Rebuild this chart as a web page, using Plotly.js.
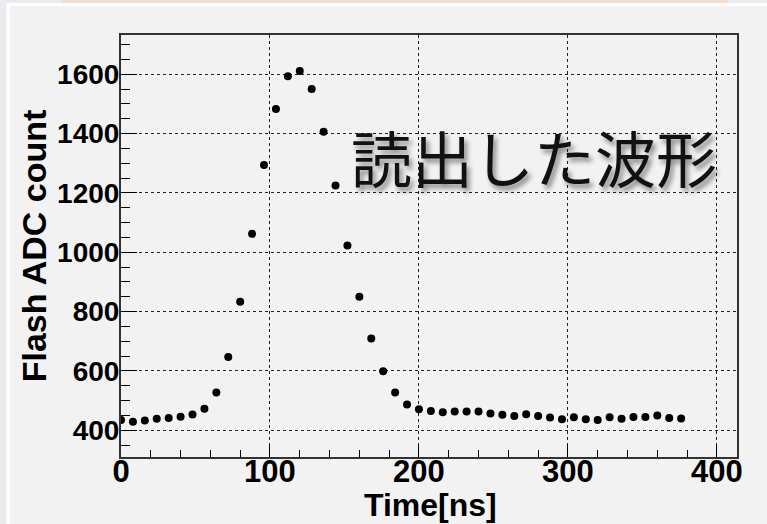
<!DOCTYPE html>
<html>
<head>
<meta charset="utf-8">
<script src="https://cdn.plot.ly/plotly-3.0.1.min.js"></script>
<style>html,body{margin:0;padding:0;background:#f2f2f2;}#chart{width:767px;height:524px;}</style>
</head>
<body>
<div id="chart"></div>
<script>
// Sample times (ns)
const timeNs = [0,8,16,24,32,40,48,56,64,72,80,88,96,104,112,120,128,136,144,152,160,168,176,184,192,200,208,216,224,232,240,248,256,264,272,280,288,296,304,312,320,328,336,344,352,360,368,376];
// Flash ADC counts
const adcCount = [435,429,433,439,441,446,453,473,527,647,833,1062,1294,1483,1593,1611,1550,1406,1225,1023,850,709,599,527,487,471,465,461,463,463,463,457,452,448,454,448,443,437,444,437,435,444,439,445,445,450,441,440];
const xTicks = [0,100,200,300,400];
const yTicks = [400,600,800,1000,1200,1400,1600];
const xTitle = 'Time[ns]';
const yTitle = 'Flash ADC count';
const label = '読出した波形';

const W = 767, H = 524;
const M = {l:121, r:30, t:35, b:67};
const PW = W - M.l - M.r, PH = H - M.t - M.b;
const px = v => (v - M.l) / PW;
const py = v => (H - M.b - v) / PH;

const trace = {
  x: timeNs, y: adcCount, type: 'scatter', mode: 'markers',
  marker: {color: '#000', size: 8}, hoverinfo: 'x+y', showlegend: false
};

const tickFontX = {family: 'Liberation Sans, Arial, sans-serif', size: 31, color: '#000', weight: 'bold'};
const tickFontY = {family: 'Liberation Sans, Arial, sans-serif', size: 28, color: '#000', weight: 'bold'};
const titleFont = {family: 'Liberation Sans, Arial, sans-serif', size: 34, color: '#000', weight: 'bold'};
const xTitleFont = {family: 'Liberation Sans, Arial, sans-serif', size: 32, color: '#000', weight: 'bold'};

const layout = {
  width: W, height: H,
  margin: M,
  paper_bgcolor: '#e9ebee',
  plot_bgcolor: '#f2f2f2',
  xaxis: {
    range: [0, 413.5], tickvals: xTicks, ticktext: xTicks.map(String),
    ticks: 'inside', ticklen: 12, tickwidth: 1, tickcolor: '#000',
    minor: {dtick: 20, tick0: 0, ticks: 'inside', ticklen: 7, tickwidth: 1, tickcolor: '#000', showgrid: false},
    showgrid: true, gridcolor: '#222', griddash: 'dot', gridwidth: 1,
    showline: true, linecolor: '#333', linewidth: 2, mirror: true,
    zeroline: false, tickfont: tickFontX, ticklabelstandoff: -14
  },
  yaxis: {
    range: [310, 1732], tickvals: yTicks, ticktext: yTicks.map(String),
    ticks: 'inside', ticklen: 16, tickwidth: 1, tickcolor: '#000',
    minor: {dtick: 50, tick0: 0, ticks: 'inside', ticklen: 9, tickwidth: 1, tickcolor: '#000', showgrid: false},
    showgrid: true, gridcolor: '#222', griddash: 'dot', gridwidth: 1,
    showline: true, linecolor: '#333', linewidth: 2, mirror: true,
    zeroline: false, tickfont: tickFontY, ticklabelstandoff: -6,
    title: {text: yTitle, font: titleFont, standoff: 0}
  },
  shapes: [
    {type: 'rect', xref: 'paper', yref: 'paper', layer: 'below',
     x0: px(8), x1: px(W + 5), y0: py(H + 5), y1: py(4.5),
     fillcolor: '#f2f2f2', line: {color: '#ffffff', width: 3}},
    {type: 'rect', xref: 'paper', yref: 'paper', layer: 'below',
     x0: px(62), x1: px(728), y0: py(2.5), y1: py(-2),
     fillcolor: '#f5dccb', line: {width: 0}}
  ],
  annotations: [
    {text: xTitle, xref: 'paper', yref: 'paper', x: px(430.5), y: py(505.5),
     xanchor: 'center', yanchor: 'middle', showarrow: false, font: xTitleFont},
    {text: label, xref: 'paper', yref: 'paper', x: px(534), y: py(156),
     xanchor: 'center', yanchor: 'middle', showarrow: false,
     font: {family: 'Noto Sans CJK JP, sans-serif', size: 61, color: '#111',
            shadow: '3px 4px 5px rgba(0,0,0,0.45)'}}
  ]
};

Plotly.newPlot('chart', [trace], layout, {displayModeBar: false, staticPlot: true});
</script>
</body>
</html>
